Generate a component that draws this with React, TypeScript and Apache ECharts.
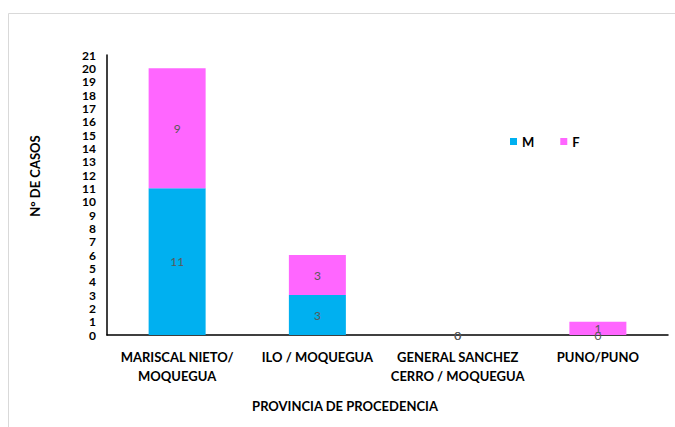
import React, { useEffect, useRef } from "react";
import * as echarts from "echarts";

const categories = ["MARISCAL NIETO/\nMOQUEGUA", "ILO / MOQUEGUA", "GENERAL SANCHEZ\nCERRO / MOQUEGUA", "PUNO/PUNO"];
const seriesM = [11, 3, 0, 0];
const seriesF = [9, 3, 0, 1];
const yTicks = { min: 0, max: 21, interval: 1 };

export default function App() {
  const ref = useRef<HTMLDivElement>(null);
  useEffect(() => {
    document.body.style.margin = "0";
    const chart = echarts.init(ref.current!, null, { renderer: "svg" });
    const font = "Lato, 'Open Sans', sans-serif";
    const labelStyle = { show: true, position: "inside", color: "#595959", fontSize: 12, fontFamily: font };
    chart.setOption({
      animation: false,
      backgroundColor: "#fff",
      grid: { left: 107, top: 55, right: 7, bottom: 92 },
      legend: {
        left: 505, top: 130, itemWidth: 7, itemHeight: 7, itemGap: 26,
        icon: "rect",
        textStyle: { fontFamily: font, fontWeight: "bold", fontSize: 13, color: "#000" },
        data: ["M", "F"],
      },
      xAxis: {
        type: "category",
        data: categories,
        axisLine: { lineStyle: { color: "#000", width: 1.5 } },
        axisTick: { show: false },
        axisLabel: { fontFamily: font, fontWeight: "bold", fontSize: 13, color: "#000", lineHeight: 19, margin: 12, interval: 0 },
      },
      yAxis: {
        type: "value",
        min: yTicks.min, max: yTicks.max, interval: yTicks.interval,
        axisLine: { show: true, lineStyle: { color: "#000", width: 1.5 } },
        axisTick: { show: false },
        splitLine: { show: false },
        axisLabel: { fontFamily: font, fontWeight: "bold", fontSize: 12, lineHeight: 12, color: "#000", margin: 11 },
      },
      series: [
        { name: "M", type: "bar", stack: "t", data: seriesM, barWidth: 57,
          itemStyle: { color: "#00B0F0" }, label: labelStyle },
        { name: "F", type: "bar", stack: "t", data: seriesF, barWidth: 57,
          itemStyle: { color: "#FF66FF" }, label: labelStyle },
      ],
      graphic: [
        { type: "rect", left: 6, top: 11, shape: { width: 700, height: 440 }, style: { fill: "none", stroke: "#d9d9d9", lineWidth: 1 }, silent: true, z: -1 },
        { type: "text", x: 35, y: 176, rotation: Math.PI / 2, style: { text: "N° DE CASOS", fontFamily: font, fontWeight: "bold", fontSize: 13, fill: "#000", align: "center", verticalAlign: "middle" } },
        { type: "text", x: 345, y: 406, style: { text: "PROVINCIA DE PROCEDENCIA", fontFamily: font, fontWeight: "bold", fontSize: 13, fill: "#000", align: "center", verticalAlign: "middle" } },
      ],
    });
    return () => chart.dispose();
  }, []);
  return <div ref={ref} style={{ position: "fixed", left: 0, top: 0, width: 675, height: 427 }} />;
}
